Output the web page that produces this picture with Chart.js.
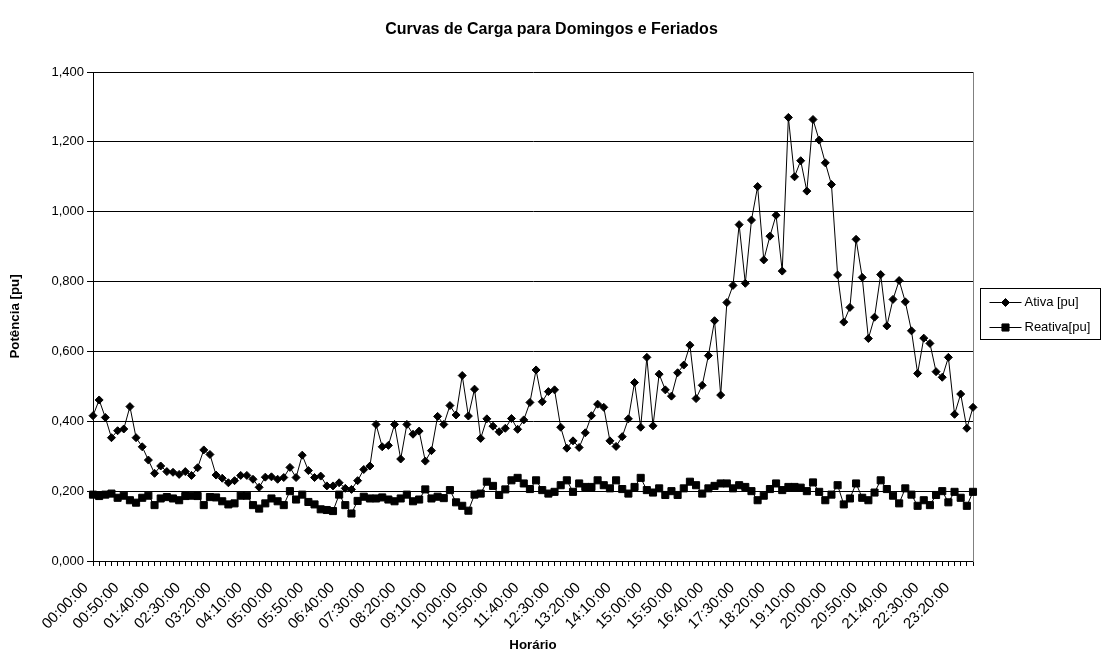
<!DOCTYPE html>
<html>
<head>
<meta charset="utf-8">
<script src="https://cdn.jsdelivr.net/npm/chart.js@4/dist/chart.umd.min.js"></script>
<style>
  html, body { margin: 0; padding: 0; background: #fff; }
  #wrap { width: 1103px; height: 654px; }
</style>
</head>
<body>
<div id="wrap"><canvas id="c" width="1103" height="654"></canvas></div>
<script>
// 10-minute intervals over a full day (00:00:00 .. 23:50:00)
const horarios = [];
for (let h = 0; h < 24; h++) {
  for (let m = 0; m < 60; m += 10) {
    horarios.push(String(h).padStart(2, '0') + ':' + String(m).padStart(2, '0') + ':00');
  }
}

// Active power [pu]
const ativa = [
  0.416, 0.461, 0.411, 0.353, 0.373, 0.378, 0.442, 0.353, 0.327, 0.289,
  0.251, 0.272, 0.256, 0.254, 0.248, 0.256, 0.245, 0.267, 0.318, 0.305,
  0.246, 0.237, 0.224, 0.230, 0.245, 0.245, 0.234, 0.211, 0.240, 0.241,
  0.234, 0.239, 0.268, 0.239, 0.303, 0.259, 0.239, 0.243, 0.215, 0.215,
  0.224, 0.208, 0.205, 0.230, 0.262, 0.272, 0.391, 0.327, 0.331, 0.391,
  0.292, 0.391, 0.363, 0.372, 0.286, 0.316, 0.414, 0.391, 0.445, 0.418,
  0.531, 0.415, 0.492, 0.351, 0.407, 0.386, 0.370, 0.380, 0.408, 0.377,
  0.404, 0.454, 0.547, 0.456, 0.485, 0.490, 0.383, 0.323, 0.344, 0.325,
  0.367, 0.416, 0.449, 0.440, 0.344, 0.328, 0.356, 0.407, 0.511, 0.383,
  0.583, 0.387, 0.535, 0.490, 0.472, 0.539, 0.561, 0.618, 0.465, 0.503,
  0.588, 0.688, 0.475, 0.740, 0.789, 0.963, 0.795, 0.976, 1.072, 0.862,
  0.930, 0.990, 0.830, 1.270, 1.100, 1.146, 1.059, 1.264, 1.205, 1.140,
  1.078, 0.819, 0.684, 0.726, 0.921, 0.812, 0.637, 0.698, 0.820, 0.673,
  0.749, 0.803, 0.742, 0.659, 0.537, 0.638, 0.623, 0.542, 0.526, 0.583,
  0.420, 0.478, 0.380, 0.440
];

// Reactive power [pu]
const reativa = [
  0.190, 0.186, 0.190, 0.193, 0.181, 0.187, 0.174, 0.167, 0.181, 0.187,
  0.160, 0.179, 0.183, 0.179, 0.174, 0.186, 0.187, 0.186, 0.160, 0.183,
  0.182, 0.171, 0.162, 0.165, 0.187, 0.187, 0.160, 0.150, 0.165, 0.179,
  0.171, 0.160, 0.200, 0.176, 0.190, 0.169, 0.162, 0.148, 0.146, 0.143,
  0.190, 0.160, 0.136, 0.172, 0.184, 0.179, 0.179, 0.182, 0.176, 0.171,
  0.179, 0.190, 0.171, 0.176, 0.205, 0.179, 0.184, 0.180, 0.203, 0.168,
  0.158, 0.144, 0.190, 0.193, 0.227, 0.215, 0.189, 0.205, 0.231, 0.238,
  0.222, 0.206, 0.231, 0.203, 0.193, 0.198, 0.217, 0.231, 0.198, 0.222,
  0.212, 0.212, 0.231, 0.217, 0.208, 0.231, 0.206, 0.193, 0.212, 0.238,
  0.203, 0.196, 0.208, 0.189, 0.200, 0.189, 0.208, 0.227, 0.217, 0.193,
  0.208, 0.215, 0.222, 0.222, 0.208, 0.217, 0.212, 0.200, 0.174, 0.187,
  0.206, 0.222, 0.203, 0.212, 0.212, 0.210, 0.200, 0.225, 0.198, 0.174,
  0.190, 0.217, 0.162, 0.179, 0.222, 0.181, 0.174, 0.196, 0.231, 0.206,
  0.187, 0.165, 0.208, 0.190, 0.158, 0.174, 0.160, 0.189, 0.200, 0.168,
  0.198, 0.181, 0.158, 0.198
];

const serieNomes = ['Ativa [pu]', 'Reativa[pu]'];
const FONT = 'Arial, "Liberation Sans", Helvetica, sans-serif';

// Framed legend on the right with line + marker samples
const legendaQuadro = {
  id: 'legendaQuadro',
  afterDraw(chart) {
    const ctx = chart.ctx;
    const x = 980.5, y = 288.5, w = 120, h = 51;
    ctx.save();
    ctx.fillStyle = '#fff';
    ctx.fillRect(x, y, w, h);
    ctx.strokeStyle = '#000';
    ctx.lineWidth = 1;
    ctx.strokeRect(x, y, w, h);
    chart.data.datasets.forEach((ds, i) => {
      const cy = y + 14 + i * 25;
      ctx.beginPath();
      ctx.moveTo(x + 9, cy);
      ctx.lineTo(x + 41, cy);
      ctx.strokeStyle = '#000';
      ctx.lineWidth = 1;
      ctx.stroke();
      Chart.helpers.drawPoint(ctx, {
        pointStyle: ds.pointStyle, radius: ds.pointRadius, rotation: 0, borderWidth: 1
      }, x + 25, cy);
      ctx.fillStyle = '#000';
      ctx.fill();
      ctx.font = '13px ' + FONT;
      ctx.textBaseline = 'middle';
      ctx.textAlign = 'left';
      ctx.fillText(ds.label, x + 44, cy);
    });
    ctx.restore();
  }
};

new Chart(document.getElementById('c'), {
  type: 'line',
  data: {
    labels: horarios,
    datasets: [
      {
        label: serieNomes[0],
        data: ativa,
        borderColor: '#000',
        backgroundColor: '#000',
        borderWidth: 1,
        pointStyle: 'rectRot',
        pointRadius: 4,
        pointBackgroundColor: '#000',
        pointBorderColor: '#000',
        pointBorderWidth: 1,
        tension: 0,
        fill: false
      },
      {
        label: serieNomes[1],
        data: reativa,
        borderColor: '#000',
        backgroundColor: '#000',
        borderWidth: 1,
        pointStyle: 'rect',
        pointRadius: 5,
        pointBackgroundColor: '#000',
        pointBorderColor: '#000',
        pointBorderWidth: 1,
        tension: 0,
        fill: false
      }
    ]
  },
  options: {
    responsive: false,
    animation: false,
    devicePixelRatio: 1,
    layout: { padding: 0 },
    plugins: {
      legend: { display: false },
      tooltip: { enabled: false },
      title: {
        display: true,
        text: 'Curvas de Carga para Domingos e Feriados',
        color: '#000',
        font: { family: FONT, size: 16, weight: 'bold' },
        padding: { top: 20.4, bottom: 32.4 }
      }
    },
    scales: {
      x: {
        type: 'category',
        offset: false,
        grid: {
          drawOnChartArea: false,
          drawTicks: true,
          tickLength: 5,
          color: '#000'
        },
        border: { display: true, color: '#000', width: 1 },
        ticks: {
          autoSkip: false,
          maxRotation: 45,
          minRotation: 45,
          color: '#000',
          padding: 13,
          labelOffset: -7,
          font: { family: FONT, size: 15 },
          callback: (v, i) => (i % 5 === 0 ? horarios[i] : '')
        },
        title: {
          display: true,
          text: 'Horário',
          color: '#000',
          font: { family: FONT, size: 13.3, weight: 'bold' },
          padding: { top: 0, bottom: 1 }
        },
        afterFit(s) { s.height = 93; }
      },
      y: {
        min: 0,
        max: 1.4,
        grid: { color: '#000', tickLength: 6, drawTicks: true },
        border: { display: true, color: '#000', width: 1 },
        ticks: {
          stepSize: 0.2,
          color: '#000',
          padding: 3,
          font: { family: FONT, size: 13 },
          callback: v => Number(v).toFixed(3).replace('.', ',')
        },
        title: {
          display: true,
          text: 'Potência [pu]',
          color: '#000',
          font: { family: FONT, size: 13.3, weight: 'bold' },
          padding: { top: 7, bottom: 0 }
        },
        afterFit(s) { s.width = 93; }
      },
      // right-hand frame of the plot area; reserves room for the legend
      moldura: {
        type: 'linear',
        position: 'right',
        min: 0,
        max: 1.4,
        grid: { display: false, drawTicks: false },
        ticks: { display: false },
        border: { display: true, color: '#808080', width: 1 },
        afterFit(s) { s.width = 130; }
      }
    }
  },
  plugins: [legendaQuadro]
});
</script>
</body>
</html>
